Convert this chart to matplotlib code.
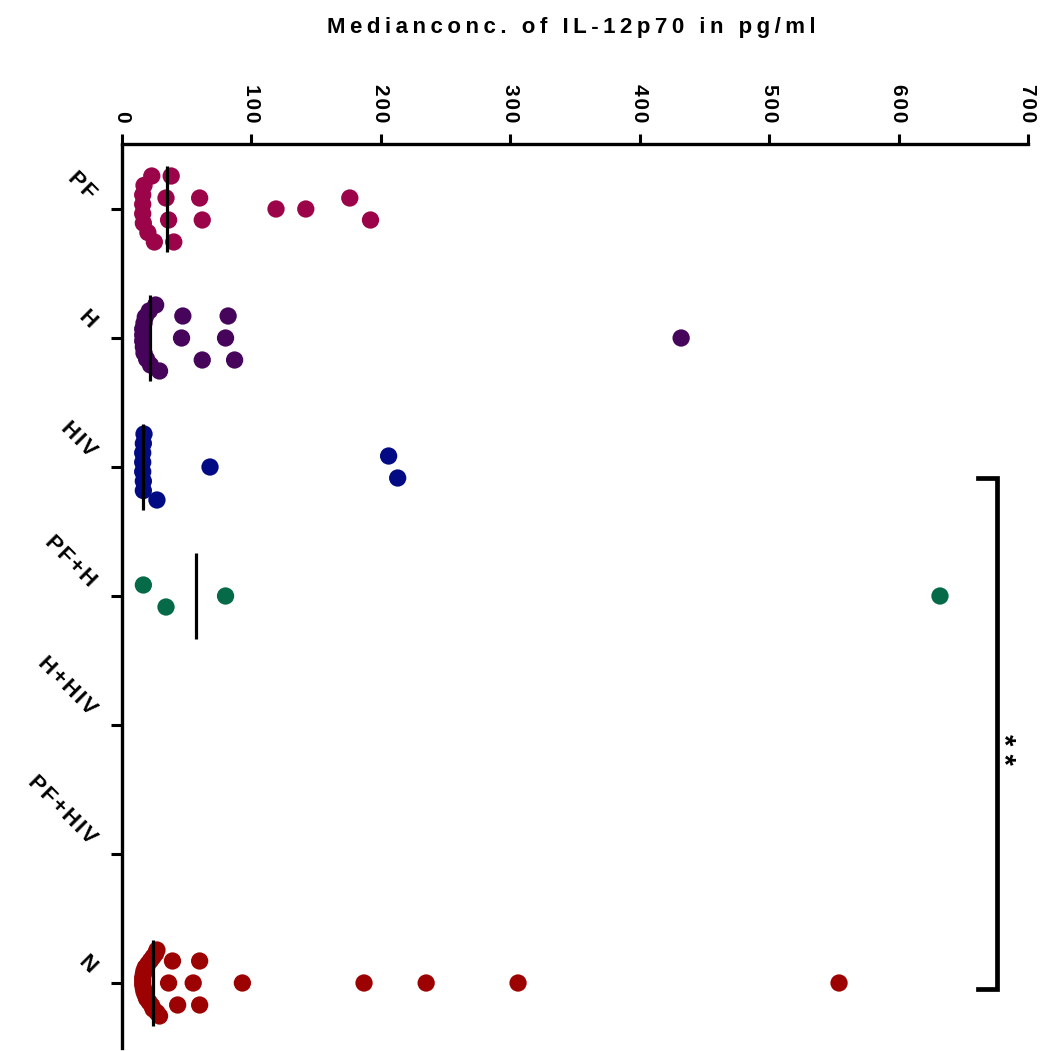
import numpy as np
import matplotlib

matplotlib.use("Agg")
import matplotlib.pyplot as plt

# IL-12p70 medians per patient group (pg/ml)
GROUPS = ["PF", "H", "HIV", "PF+H", "H+HIV", "PF+HIV", "N"]
PF = [16, 16, 16, 16.5, 17, 20, 23, 25, 34, 36, 38, 40, 60, 62, 119, 142, 176, 192]
H = [16, 16, 16, 16.5, 17, 17, 18, 19, 21, 22, 26, 29, 46, 47, 62, 80, 82, 87, 432]
HIV = [16, 16, 16, 16.5, 16.5, 16.5, 17, 27, 68, 206, 213]
PF_H = [16.5, 34, 80, 632]
H_HIV = []
PF_HIV = []
N = [16, 16, 16, 16.5, 16.5, 17, 17, 18, 18, 19, 20, 21, 22, 23, 24, 24,
     26, 27, 27, 29, 36, 39, 43, 55, 60, 60, 93, 187, 235, 306, 554]
VALUES = [PF, H, HIV, PF_H, H_HIV, PF_HIV, N]

X_TICKS = [0, 100, 200, 300, 400, 500, 600, 700]
SIGNIF_PAIR = ("HIV", "N")
SIGNIF_LABEL = "**"

COLORS = ["#9b0449", "#46045a", "#020a84", "#046a48", "#555555", "#555555", "#9d0202"]
FONT = ["Liberation Sans", "DejaVu Sans"]


def _spaced(text, gap="\u2009"):
    return gap.join(text)


def _swarm_offsets(values, px_per_cat, width=17.8, step_px=22.0, span_px=66.0):
    """Spread near-equal values across the category band, low values in the middle."""
    values = np.asarray(values, dtype=float)
    offsets = np.zeros(len(values))
    groups = []
    for idx in np.argsort(values, kind="stable"):
        if groups and values[idx] - values[groups[-1][0]] <= width:
            groups[-1].append(idx)
        else:
            groups.append([idx])
    for members in groups:
        n = len(members)
        if n == 1:
            continue
        step = min(step_px, span_px / (n - 1))
        slots = (np.arange(n) - (n - 1) / 2) * step
        slots = sorted(slots, key=lambda s: (round(abs(s), 6), s))
        for idx, s in zip(members, slots):
            offsets[idx] = s / px_per_cat
    return offsets


plt.rcParams["font.family"] = FONT
plt.rcParams["font.weight"] = "bold"

fig = plt.figure(figsize=(10.5, 10.51), dpi=100)
ax = fig.add_axes([122 / 1050, 3.5 / 1051, 906 / 1050, 903 / 1051])
ax.set_xlim(0, 700)
ax.set_ylim(len(GROUPS) - 0.5, -0.5)

px_per_cat = ax.get_window_extent().height / len(GROUPS)

for i, (vals, color) in enumerate(zip(VALUES, COLORS)):
    if not vals:
        continue
    offs = _swarm_offsets(vals, px_per_cat)
    ax.scatter(vals, i + offs, s=155, color=color, edgecolors="none", zorder=3)
    med = np.median(vals)
    ax.plot([med, med], [i - 0.33, i + 0.33], color="black", lw=2.3,
            solid_capstyle="butt", zorder=4)

# axes styling: value axis on top, category axis on the left
for side in ("right", "bottom"):
    ax.spines[side].set_visible(False)
for side in ("top", "left"):
    ax.spines[side].set_linewidth(2.4)
    ax.spines[side].set_color("black")

ax.xaxis.set_ticks_position("top")
ax.set_xticks(X_TICKS)
ax.set_xticklabels([_spaced(str(t), "\u200a") for t in X_TICKS], rotation=-90,
                   fontsize=15, fontweight="bold")
ax.tick_params(axis="x", direction="out", length=7, width=2.2, pad=9)

ax.set_yticks(range(len(GROUPS)))
ax.set_yticklabels([])
ax.tick_params(axis="y", direction="out", length=8, width=2.2)

for i, name in enumerate(GROUPS):
    ax.annotate(_spaced(name, "\u200a"), xy=(0, i), xycoords=("axes fraction", "data"),
                xytext=(-21, 9), textcoords="offset points",
                rotation=-45, rotation_mode="anchor", ha="right", va="center",
                fontsize=16, fontweight="bold")

# significance bracket between HIV and N
y0 = GROUPS.index(SIGNIF_PAIR[0]) + 0.085
y1 = GROUPS.index(SIGNIF_PAIR[1]) + 0.05
ax.plot([661, 676, 676, 661], [y0, y0, y1, y1], color="black", lw=3.4,
        solid_joinstyle="miter", clip_on=False, zorder=5)
ax.text(680.5, (y0 + y1) / 2 + 0.12, _spaced(SIGNIF_LABEL, " "), rotation=-90,
        ha="center", va="center", fontsize=21, fontweight="bold", clip_on=False)

fig.text(571 / 1050, 1 - 28 / 1051, _spaced("Medianconc. of IL-12p70 in pg/ml"),
         ha="center", va="center", fontsize=16, fontweight="bold")

fig.savefig("out.png", dpi=100, facecolor="white")
